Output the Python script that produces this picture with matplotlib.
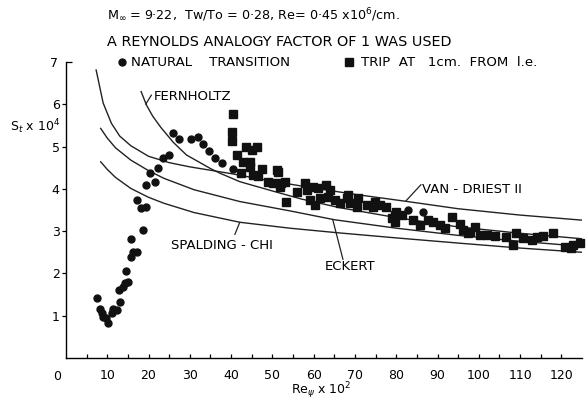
import matplotlib
matplotlib.use("Agg")
import matplotlib.pyplot as plt
from matplotlib.lines import Line2D

plt.rcParams['font.family'] = ['DejaVu Sans']
plt.rcParams['mathtext.fontset'] = 'dejavusans'

# ---------------- data ----------------
# Natural transition (circles)
nat_x = [7.6, 8.2, 8.6, 9.0, 9.8, 10.2, 11.1, 11.5, 12.3, 13.1, 12.9, 13.7, 14.3, 15.1,
         14.5, 15.7, 16.3, 17.3, 15.7, 18.6, 18.1, 19.4, 17.3, 19.4, 21.5, 20.3, 22.2,
         23.6, 25.0, 26.0, 27.4, 30.2, 31.9, 33.2, 34.6, 36.1, 37.9, 40.5, 82.8, 86.4]
nat_y = [1.41, 1.17, 1.06, 0.98, 0.94, 0.83, 1.06, 1.17, 1.13, 1.33, 1.61, 1.69, 1.78, 1.80,
         2.06, 2.39, 2.51, 2.51, 2.81, 3.03, 3.54, 3.58, 3.74, 4.09, 4.17, 4.37, 4.50,
         4.74, 4.80, 5.31, 5.17, 5.17, 5.22, 5.06, 4.89, 4.72, 4.60, 4.48, 3.50, 3.45]

# Trip at 1 cm from leading edge (squares)
trip_x = [40.4, 40.1, 40.1, 41.5, 43.7, 45.0, 46.3, 42.8, 44.6, 42.5, 44.6, 45.3, 47.4, 46.6,
          51.2, 49.0, 50.2, 52.2, 51.8, 53.4, 55.9, 53.0, 51.4,
          57.9, 58.3, 59.9, 61.1, 59.1, 60.3, 61.5, 63.1, 63.9, 63.5, 65.1, 66.3,
          68.0, 68.8, 70.4, 70.8, 72.8, 74.4, 76.0, 77.6, 78.9, 79.7, 68.4, 74.8, 80.0, 81.3, 79.7,
          84.1, 85.7, 87.7, 88.9, 90.6, 91.8, 93.4, 95.4, 96.2, 97.4, 99.0, 97.8,
          100.2, 101.9, 103.9, 106.7, 108.3, 109.1, 110.7, 112.8, 114.0, 115.6, 118.0,
          120.8, 122.4, 124.5, 122.8]
trip_y = [5.78, 5.35, 5.12, 4.80, 5.00, 4.92, 4.98, 4.64, 4.64, 4.37, 4.52, 4.33, 4.48, 4.30,
          4.44, 4.17, 4.13, 4.13, 4.05, 3.70, 3.93, 4.17, 4.41,
          4.13, 3.97, 4.05, 4.01, 3.74, 3.62, 3.78, 4.09, 3.97, 3.81, 3.74, 3.66,
          3.78, 3.66, 3.58, 3.78, 3.62, 3.58, 3.62, 3.58, 3.30, 3.38, 3.85, 3.70, 3.46, 3.38, 3.22,
          3.26, 3.14, 3.26, 3.22, 3.14, 3.07, 3.34, 3.18, 3.03, 2.95, 3.10, 2.99,
          2.91, 2.91, 2.88, 2.87, 2.67, 2.95, 2.83, 2.79, 2.85, 2.88, 2.95,
          2.63, 2.59, 2.73, 2.67]

# Theory curves
vd_x = [7.3, 9.0, 11.0, 13.0, 15.7, 20.0, 25.0, 30.0, 35.0, 40.0, 50.0, 60.0, 70.0, 82.0, 95.0, 110.0, 125.0]
vd_y = [6.81, 6.03, 5.55, 5.25, 5.02, 4.77, 4.62, 4.52, 4.44, 4.36, 4.18, 4.02, 3.87, 3.71, 3.53, 3.38, 3.26]

fh_x = [18.2, 19.5, 21.0, 23.0, 26.0, 29.2, 33.2, 35.0, 37.3, 42.1, 50.0, 57.0, 66.0, 80.0, 95.0, 110.0, 125.0]
fh_y = [6.30, 5.98, 5.72, 5.45, 5.10, 4.80, 4.58, 4.48, 4.37, 4.17, 3.95, 3.76, 3.56, 3.32, 3.10, 2.95, 2.82]

ek_x = [8.4, 10.0, 12.0, 15.7, 20.0, 23.7, 31.0, 42.1, 54.2, 65.0, 80.0, 95.0, 110.0, 125.0]
ek_y = [5.43, 5.20, 4.97, 4.68, 4.43, 4.25, 3.98, 3.70, 3.48, 3.27, 3.07, 2.90, 2.76, 2.64]

sc_x = [8.4, 10.0, 12.0, 15.7, 20.0, 23.7, 31.0, 42.1, 54.2, 66.0, 80.0, 96.0, 110.0, 125.0]
sc_y = [4.64, 4.46, 4.27, 4.01, 3.80, 3.66, 3.44, 3.21, 3.07, 2.96, 2.84, 2.71, 2.60, 2.50]

x_major = [10, 20, 30, 40, 50, 60, 70, 80, 90, 100, 110, 120]
x_minor = [5, 15, 25, 35, 45, 55, 65, 75, 85, 95, 105, 115]
y_major = [1, 2, 3, 4, 5, 6]

# ---------------- figure ----------------
W, H = 588, 400
fig = plt.figure(figsize=(W / 100, H / 100), dpi=100)
ax = fig.add_axes([66 / W, 42 / H, 516 / W, 296 / H])
ax.set_xlim(0, 125)
ax.set_ylim(0, 7)

for s in ('top', 'right'):
    ax.spines[s].set_visible(False)
for s in ('left', 'bottom'):
    ax.spines[s].set_linewidth(1.0)

lw = 1.0
ax.plot(vd_x, vd_y, color='#222', lw=lw)
ax.plot(fh_x, fh_y, color='#222', lw=lw)
ax.plot(ek_x, ek_y, color='#222', lw=lw)
ax.plot(sc_x, sc_y, color='#222', lw=lw)

ax.plot(nat_x, nat_y, 'o', color='#111', ms=5.0, mec='#111', clip_on=False)
ax.plot(trip_x, trip_y, 's', color='#111', ms=5.2, mec='#111', clip_on=False)

# ticks
ax.set_xticks(x_major)
ax.set_xticklabels([str(v) for v in x_major])
ax.set_xticks(x_minor, minor=True)
ax.tick_params(axis='x', which='both', direction='in', length=3, width=0.9,
               labelsize=9, pad=8)
ax.set_yticks(y_major)
ax.set_yticklabels([str(v) for v in y_major])
ax.set_yticks([7], labels=['7'], minor=True)
ax.tick_params(axis='y', which='major', direction='out', length=3, width=0.9,
               labelsize=9, pad=1.5)
ax.tick_params(axis='y', which='minor', direction='in', length=4, width=0.9,
               labelsize=9, pad=5.5)
ax.annotate('0', xy=(0, 0), xycoords='data', xytext=(-9, -19), textcoords='offset pixels',
            ha='center', va='center', fontsize=9)

# curve labels and leaders
fs = 9.5
lc = '#222'
ax.annotate('', xy=(19.3, 6.0), xytext=(20.7, 6.22),
            arrowprops=dict(arrowstyle='-', lw=0.9, color=lc, shrinkA=0, shrinkB=0))
ax.text(21.2, 6.18, 'FERNHOLTZ', fontsize=fs, va='center', ha='left')
ax.annotate('', xy=(82.3, 3.71), xytext=(86.0, 4.10),
            arrowprops=dict(arrowstyle='-', lw=0.9, color=lc, shrinkA=0, shrinkB=0))
ax.text(86.3, 3.99, 'VAN - DRIEST II', fontsize=fs, va='center', ha='left')
ax.annotate('', xy=(64.6, 3.28), xytext=(67.1, 2.33),
            arrowprops=dict(arrowstyle='-', lw=0.9, color=lc, shrinkA=0, shrinkB=0))
ax.text(62.7, 2.17, 'ECKERT', fontsize=fs, va='center', ha='left')
ax.annotate('', xy=(42.1, 3.21), xytext=(40.9, 2.92),
            arrowprops=dict(arrowstyle='-', lw=0.9, color=lc, shrinkA=0, shrinkB=0))
ax.text(25.4, 2.65, 'SPALDING - CHI', fontsize=fs, va='center', ha='left')


def fx(px):
    return px / W


def fy(py):
    return 1 - py / H


fig.text(fx(107), fy(15), r'M$_{\infty}$ = 9·22,  Tw/To = 0·28, Re= 0·45 x10$^{6}$/cm.',
         fontsize=9.2, va='center', ha='left')
fig.text(fx(107), fy(42), 'A REYNOLDS ANALOGY FACTOR OF 1 WAS USED',
         fontsize=10.4, va='center', ha='left')

fig.add_artist(Line2D([fx(122)], [fy(62)], marker='o', ms=5.0, color='#111',
                      transform=fig.transFigure))
fig.text(fx(131), fy(62), 'NATURAL    TRANSITION', fontsize=9.6, va='center', ha='left')
fig.add_artist(Line2D([fx(349)], [fy(62)], marker='s', ms=5.2, color='#111',
                      transform=fig.transFigure))
fig.text(fx(361), fy(62), 'TRIP  AT   1cm.  FROM  l.e.', fontsize=9.6, va='center', ha='left')

fig.text(fx(10), fy(127), r'S$_t$ x 10$^4$', fontsize=9, va='center', ha='left')
fig.text(fx(321), fy(391), r'Re$_{\psi}$ x 10$^2$', fontsize=9, va='center', ha='center')

fig.savefig('out.png', dpi=100)
